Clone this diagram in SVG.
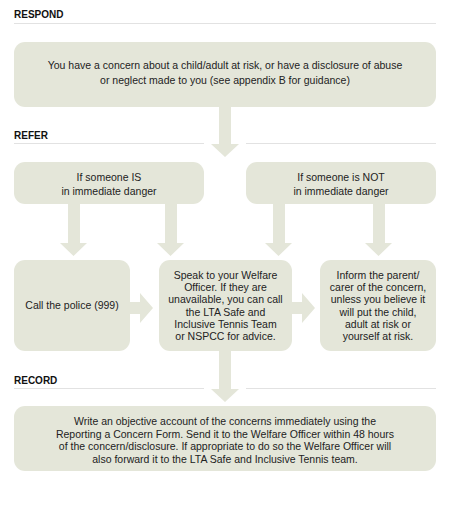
<svg xmlns="http://www.w3.org/2000/svg" width="470" height="509" viewBox="0 0 470 509">
<style>
.box{fill:#e4e6d9}
.arr{fill:#e4e6d9}
.t{font-family:"Liberation Sans",Arial,sans-serif;font-size:10.5px;fill:#222;text-anchor:middle}
.h{font-family:"Liberation Sans",Arial,sans-serif;font-size:10px;font-weight:bold;fill:#111}
.rule{stroke:#e2e2e2;stroke-width:1}
</style>
<rect width="470" height="509" fill="#fff"/>
<g id="headers">
<text class="h" x="14" y="18">RESPOND</text>
<line class="rule" x1="14" y1="23.5" x2="436" y2="23.5"/>
<text class="h" x="14" y="139">REFER</text>
<line class="rule" x1="14" y1="143.5" x2="204" y2="143.5"/>
<line class="rule" x1="246" y1="143.5" x2="436" y2="143.5"/>
<text class="h" x="14" y="384">RECORD</text>
<line class="rule" x1="14" y1="388.5" x2="204" y2="388.5"/>
<line class="rule" x1="246" y1="388.5" x2="436" y2="388.5"/>
</g>
<g id="connectors">
<polygon class="arr" points="219,107 231,107 231,144 239,144 225,157 211,144 219,144"/>
<polygon class="arr" points="68,204 80,204 80,243 87,243 73.5,256 60,243 68,243"/>
<polygon class="arr" points="165,204 177,204 177,243 184,243 170.5,256 157,243 165,243"/>
<polygon class="arr" points="273,204 285,204 285,243 292,243 278.5,256 265,243 273,243"/>
<polygon class="arr" points="373,204 385,204 385,243 392,243 378.5,256 365,243 373,243"/>
<polygon class="arr" points="130,302 140,302 140,293 153,308 140,323 140,314 130,314"/>
<polygon class="arr" points="292,302 302,302 302,293 315,308 302,323 302,314 292,314"/>
<polygon class="arr" points="219,351 231,351 231,389 239,389 225,402 211,389 219,389"/>
</g>
<g id="respond">
<rect class="box" x="14" y="42" width="422" height="65" rx="11"/>
<text class="t" x="225" y="69">You have a concern about a child/adult at risk, or have a disclosure of abuse</text>
<text class="t" x="225" y="83.5">or neglect made to you (see appendix B for guidance)</text>
</g>
<g id="is-danger">
<rect class="box" x="14" y="162" width="190" height="42" rx="11"/>
<text class="t" x="109" y="181">If someone IS</text>
<text class="t" x="109" y="195">in immediate danger</text>
</g>
<g id="not-danger">
<rect class="box" x="246" y="162" width="190" height="42" rx="11"/>
<text class="t" x="341" y="181">If someone is NOT</text>
<text class="t" x="341" y="195">in immediate danger</text>
</g>
<g id="police">
<rect class="box" x="14" y="260" width="116" height="91" rx="11"/>
<text class="t" x="72" y="309">Call the police (999)</text>
</g>
<g id="welfare">
<rect class="box" x="159" y="260" width="133" height="91" rx="11"/>
<text class="t" x="225.5" y="279">Speak to your Welfare</text>
<text class="t" x="225.5" y="291.2">Officer. If they are</text>
<text class="t" x="225.5" y="303.4">unavailable, you can call</text>
<text class="t" x="225.5" y="315.6">the LTA Safe and</text>
<text class="t" x="225.5" y="327.8">Inclusive Tennis Team</text>
<text class="t" x="225.5" y="340">or NSPCC for advice.</text>
</g>
<g id="inform">
<rect class="box" x="320" y="260" width="116" height="91" rx="11"/>
<text class="t" x="378" y="279">Inform the parent/</text>
<text class="t" x="378" y="291.2">carer of the concern,</text>
<text class="t" x="378" y="303.4">unless you believe it</text>
<text class="t" x="378" y="315.6">will put the child,</text>
<text class="t" x="378" y="327.8">adult at risk or</text>
<text class="t" x="378" y="340">yourself at risk.</text>
</g>
<g id="record">
<rect class="box" x="14" y="406" width="422" height="65" rx="11"/>
<text class="t" x="225" y="425">Write an objective account of the concerns immediately using the</text>
<text class="t" x="225" y="437.5">Reporting a Concern Form. Send it to the Welfare Officer within 48 hours</text>
<text class="t" x="225" y="450">of the concern/disclosure. If appropriate to do so the Welfare Officer will</text>
<text class="t" x="225" y="462.5">also forward it to the LTA Safe and Inclusive Tennis team.</text>
</g>
</svg>
